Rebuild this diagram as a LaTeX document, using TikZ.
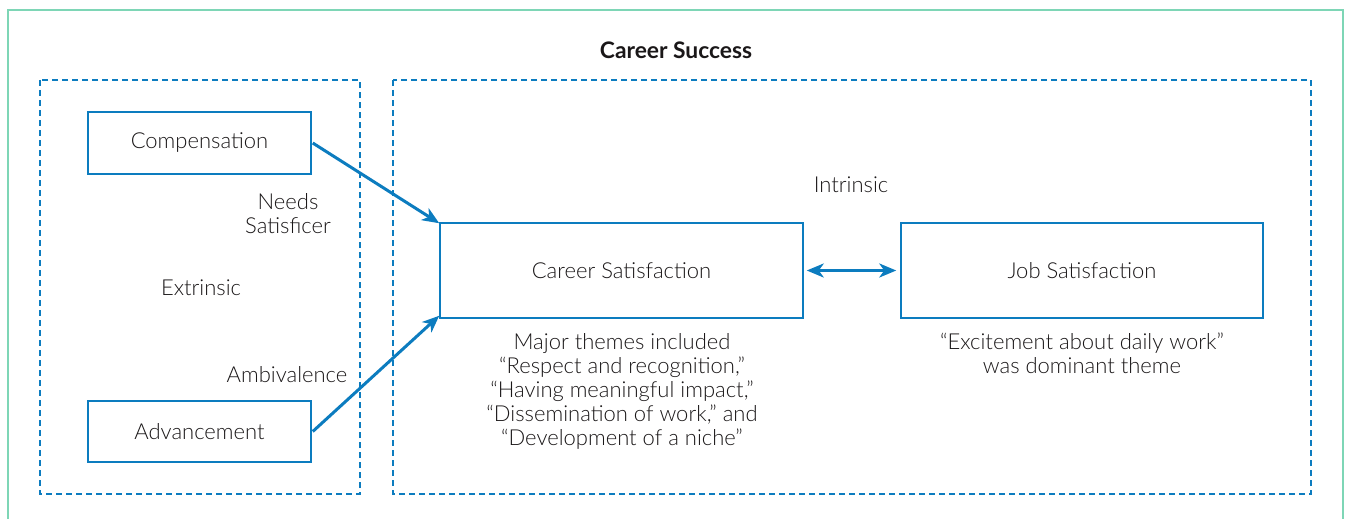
\documentclass[tikz,border=0pt]{standalone}
\usepackage{fontspec}
\setmainfont{Lato Light}[BoldFont={Lato Bold}]
\usetikzlibrary{arrows.meta}
\definecolor{cblue}{HTML}{0C7CBF}
\definecolor{cgreen}{HTML}{7ED6B6}
\definecolor{ctext}{HTML}{1A1718}
\begin{document}
\begin{tikzpicture}[x=1pt,y=-1pt,
  txt/.style={font=\fontsize{22}{24}\selectfont, text=ctext, inner sep=0pt, align=center},
  solidbox/.style={draw=cblue, line width=1.5pt, inner sep=0pt, font=\fontsize{22}{24}\selectfont, text=ctext},
  dashbox/.style={draw=cblue, line width=1.5pt, dash pattern=on 6pt off 4pt},
  conn/.style={draw=cblue, line width=3pt, -{Stealth[length=17pt,width=14pt,inset=5pt]}},
  dconn/.style={draw=cblue, line width=3pt, {Stealth[length=17pt,width=14pt,inset=5pt]}-{Stealth[length=17pt,width=14pt,inset=5pt]}}
]
\useasboundingbox (0,0) rectangle (1347,519);
% outer frame
\draw[cgreen, line width=1.5pt] (8,540) -- (8,10) -- (1343,10) -- (1343,540);
% dashed groups
\draw[dashbox] (40,80) rectangle (360,494);
\draw[dashbox] (393,80) rectangle (1311,494);
% title
\node[txt, font=\fontsize{22.8}{24}\selectfont\bfseries] (title) at (676,50) {Career Success};
% boxes
\node[solidbox, minimum width=223pt, minimum height=62pt] (comp) at (199.5,143) {Compensation};
\node[solidbox, minimum width=223pt, minimum height=61pt] (adv) at (199.5,431.5) {Advancement};
\node[solidbox, minimum width=363pt, minimum height=95pt] (career) at (621.5,270.5) {Career Satisfaction};
\node[solidbox, minimum width=362pt, minimum height=95pt] (job) at (1082,270.5) {Job Satisfaction};
% labels
\node[txt] (needs) at (288,214) {Needs\\Satisficer};
\node[txt] (extr) at (201,288) {Extrinsic};
\node[txt] (amb) at (287,375) {Ambivalence};
\node[txt] (intr) at (851,185) {Intrinsic};
\node[txt, anchor=north] (themes) at (622,333) {Major themes included\\``Respect and recognition,''\\``Having meaningful impact,''\\``Dissemination of work,'' and\\``Development of a niche''};
\node[txt, anchor=north] (excite) at (1082,333) {``Excitement about daily work''\\was dominant theme};
% connectors
\coordinate (c1) at ([yshift=-1pt]career.north west);
\coordinate (c2) at ([yshift=3pt]career.south west);
\draw[conn] ([xshift=1pt]comp.east) -- (c1);
\draw[conn] ([xshift=1pt]adv.east) -- (c2);
\draw[dconn] ([xshift=3pt]career.east) -- ([xshift=-4pt]job.west);
\end{tikzpicture}
\end{document}
